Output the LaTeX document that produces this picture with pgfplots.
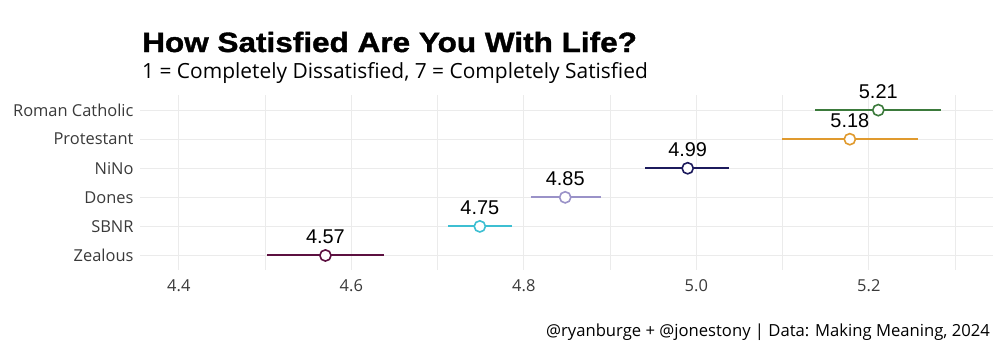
\documentclass[border=0pt]{standalone}
\usepackage{fontspec}
\setmainfont{Open Sans}
\newfontfamily\titlefont{Liberation Sans}[BoldFont={Liberation Sans Bold}, BoldFeatures={FakeBold=1.3, FakeStretch=1.13}]
\newfontfamily\numfont{Liberation Sans}
\usepackage{pgfplots}
\pgfplotsset{compat=1.18}
\definecolor{rc}{HTML}{3B7A3B}
\definecolor{pr}{HTML}{E09A2E}
\definecolor{nn}{HTML}{1C1A5C}
\definecolor{dn}{HTML}{9A92C8}
\definecolor{sb}{HTML}{3DBFD2}
\definecolor{ze}{HTML}{5C1040}
\definecolor{gridc}{HTML}{EBEBEB}
\definecolor{tickc}{HTML}{3A3A3A}
\pgfplotsset{
  ebar/.style={#1, line width=2bp, mark=none, forget plot},
  pt/.style={only marks, mark=*, mark size=5.6bp, forget plot, mark options={draw=#1, fill=white, line width=1.6bp},
    every node near coord/.append style={anchor=base, yshift=12bp, font=\numfont\fontsize{20}{24}\selectfont, text=black}},
}
\begin{document}
\begin{tikzpicture}
\path (0bp,0bp) rectangle (1000bp,-352bp);
\node[anchor=base west, inner sep=0] at (142bp,-52bp) {\titlefont\bfseries\fontsize{28}{34}\selectfont How Satisfied Are You With Life?};
\node[anchor=base west, inner sep=0] at (142bp,-78bp) {\fontsize{21}{24}\selectfont 1 = Completely Dissatisfied, 7 = Completely Satisfied};
\node[anchor=base east, inner sep=0] at (990bp,-336bp) {\fontsize{16.7}{18}\selectfont @ryanburge + @jonestony | Data: Making Meaning, 2024};
\begin{axis}[
  at={(140bp,-270bp)}, anchor=south west,
  scale only axis, width=853bp, height=175bp,
  xmin=4.355, xmax=5.344, ymin=0.5, ymax=6.52,
  xtick={4.4,4.6,4.8,5.0,5.2},
  xticklabels={4.4,4.6,4.8,5.0,5.2},
  minor xtick={4.5,4.7,4.9,5.1,5.3},
  ytick={1,2,3,4,5,6},
  yticklabels={Zealous,SBNR,Dones,NiNo,Protestant,Roman Catholic},
  grid=both,
  major grid style={gridc, line width=1bp},
  minor grid style={gridc, line width=1bp},
  axis line style={draw=none},
  major tick length=0pt, minor tick length=0pt,
  tick label style={font=\fontsize{16.5}{18}\selectfont, text=tickc},
  /pgf/number format/assume math mode=true,
  yticklabel style={xshift=-3bp},
  xticklabel style={yshift=-6bp},
  clip=false,
]
\addplot[ebar=ze] coordinates {(4.502,1) (4.638,1)};
\addplot[ebar=sb] coordinates {(4.712,2) (4.786,2)};
\addplot[ebar=dn] coordinates {(4.808,3) (4.889,3)};
\addplot[ebar=nn] coordinates {(4.941,4) (5.038,4)};
\addplot[ebar=pr] coordinates {(5.099,5) (5.257,5)};
\addplot[ebar=rc] coordinates {(5.138,6) (5.284,6)};
\addplot[pt=ze, nodes near coords={4.57}] coordinates {(4.570,1)};
\addplot[pt=sb, nodes near coords={4.75}] coordinates {(4.749,2)};
\addplot[pt=dn, nodes near coords={4.85}] coordinates {(4.848,3)};
\addplot[pt=nn, nodes near coords={4.99}] coordinates {(4.990,4)};
\addplot[pt=pr, nodes near coords={5.18}] coordinates {(5.178,5)};
\addplot[pt=rc, nodes near coords={5.21}] coordinates {(5.211,6)};
\end{axis}
\end{tikzpicture}
\end{document}
